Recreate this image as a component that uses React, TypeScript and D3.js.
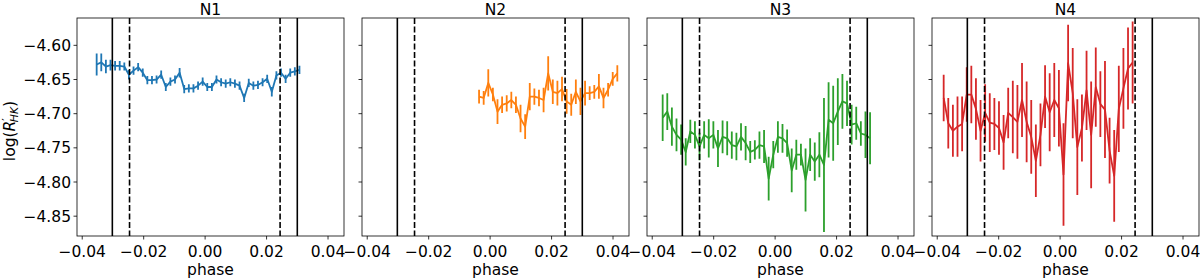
import * as d3 from "d3";

// panel titles and line colours (matplotlib tab10)
const panelNames = ["N1", "N2", "N3", "N4"];
const colors = ["#1f77b4", "#ff7f0e", "#2ca02c", "#d62728"];

// tick values
const xTicks = [-0.04, -0.02, 0.0, 0.02, 0.04];
const yTicks = [-4.6, -4.65, -4.7, -4.75, -4.8, -4.85];

// vertical reference lines (phase)
const solidLines = [-0.0302, 0.03];
const dashedLines = [-0.0246, 0.0244];

// N1
const n1Phase = [
  -0.0353, -0.0338, -0.0323, -0.0308, -0.0293, -0.0278, -0.0263, -0.0248, -0.0233, -0.0218,
  -0.0203, -0.0188, -0.0173, -0.0158, -0.0143, -0.0128, -0.0113, -0.0098, -0.0083, -0.0068,
  -0.0053, -0.0038, -0.0023, -0.0008, 0.0007, 0.0022, 0.0037, 0.0052, 0.0067, 0.0082,
  0.0097, 0.0112, 0.0127, 0.0142, 0.0157, 0.0172, 0.0187, 0.0202, 0.0217, 0.0232,
  0.0247, 0.0262, 0.0277, 0.0292, 0.0307,
];
const n1Value = [
  -4.628, -4.625, -4.631, -4.629, -4.63, -4.63, -4.631, -4.643, -4.637, -4.632,
  -4.64, -4.651, -4.651, -4.65, -4.643, -4.661, -4.653, -4.65, -4.64, -4.664,
  -4.663, -4.663, -4.659, -4.653, -4.661, -4.661, -4.65, -4.654, -4.656, -4.654,
  -4.656, -4.659, -4.677, -4.655, -4.659, -4.658, -4.654, -4.649, -4.668, -4.644,
  -4.64, -4.649, -4.64, -4.638, -4.636,
];
const n1Err = [
  0.016, 0.013, 0.01, 0.008, 0.007, 0.007, 0.006, 0.007, 0.006, 0.006,
  0.006, 0.006, 0.006, 0.006, 0.006, 0.006, 0.006, 0.006, 0.007, 0.006,
  0.006, 0.006, 0.006, 0.006, 0.006, 0.006, 0.006, 0.006, 0.006, 0.006,
  0.006, 0.006, 0.006, 0.006, 0.006, 0.006, 0.006, 0.006, 0.007, 0.006,
  0.006, 0.006, 0.006, 0.006, 0.006,
];

// N2
const n2Phase = [
  -0.0036, -0.0021, -0.0006, 0.0009, 0.0024, 0.0039, 0.0054, 0.0069, 0.0084, 0.0099,
  0.0114, 0.0129, 0.0144, 0.0159, 0.0174, 0.0189, 0.0204, 0.0219, 0.0234, 0.0249,
  0.0264, 0.0279, 0.0294, 0.0309, 0.0324, 0.0339, 0.0354, 0.0369, 0.0384, 0.0399,
  0.0414,
];
const n2Value = [
  -4.675, -4.677, -4.655, -4.672, -4.697, -4.687, -4.685, -4.68, -4.687, -4.707,
  -4.719, -4.675, -4.675, -4.677, -4.68, -4.641, -4.668, -4.67, -4.664, -4.682,
  -4.687, -4.668, -4.682, -4.67, -4.67, -4.668, -4.66, -4.677, -4.665, -4.649,
  -4.641,
];
const n2Err = [
  0.01, 0.01, 0.02, 0.01, 0.018, 0.012, 0.012, 0.012, 0.012, 0.02,
  0.018, 0.02, 0.012, 0.012, 0.018, 0.025, 0.018, 0.018, 0.018, 0.018,
  0.016, 0.018, 0.02, 0.018, 0.01, 0.01, 0.018, 0.015, 0.01, 0.01,
  0.012,
];

// N3
const n3Phase = [
  -0.0366, -0.0351, -0.0336, -0.0321, -0.0306, -0.0291, -0.0276, -0.0261, -0.0246, -0.0231,
  -0.0216, -0.0201, -0.0186, -0.0171, -0.0156, -0.0141, -0.0126, -0.0111, -0.0096, -0.0081,
  -0.0066, -0.0051, -0.0036, -0.0021, -0.0006, 0.0009, 0.0024, 0.0039, 0.0054, 0.0069,
  0.0084, 0.0099, 0.0114, 0.0129, 0.0144, 0.0159, 0.0174, 0.0189, 0.0204, 0.0219,
  0.0234, 0.0249, 0.0264, 0.0279, 0.0294, 0.0309,
];
const n3Value = [
  -4.706, -4.697, -4.719, -4.731, -4.738, -4.756, -4.726, -4.731, -4.748, -4.731,
  -4.736, -4.731, -4.751, -4.734, -4.736, -4.746, -4.748, -4.734, -4.743, -4.756,
  -4.753, -4.746, -4.748, -4.795, -4.76, -4.734, -4.736, -4.743, -4.783, -4.76,
  -4.76, -4.797, -4.76, -4.77, -4.76, -4.775, -4.709, -4.714, -4.697, -4.682,
  -4.685, -4.716, -4.714, -4.729, -4.731, -4.736,
];
const n3Err = [
  0.034, 0.027, 0.028, 0.024, 0.022, 0.02, 0.017, 0.02, 0.02, 0.02,
  0.028, 0.02, 0.027, 0.024, 0.025, 0.02, 0.02, 0.02, 0.025, 0.016,
  0.014, 0.02, 0.024, 0.032, 0.02, 0.023, 0.021, 0.02, 0.032, 0.022,
  0.016, 0.046, 0.024, 0.028, 0.033, 0.098, 0.055, 0.055, 0.049, 0.04,
  0.033, 0.029, 0.024, 0.018, 0.034, 0.038,
];

// N4
const n4Phase = [
  -0.0379, -0.0364, -0.0349, -0.0334, -0.0319, -0.0304, -0.0289, -0.0274, -0.0259, -0.0244,
  -0.0229, -0.0214, -0.0199, -0.0184, -0.0169, -0.0154, -0.0139, -0.0124, -0.0109, -0.0094,
  -0.0079, -0.0064, -0.0049, -0.0034, -0.0019, -0.0004, 0.0011, 0.0026, 0.0041, 0.0056,
  0.0071, 0.0086, 0.0101, 0.0116, 0.0131, 0.0146, 0.0161, 0.0176, 0.0191, 0.0206,
  0.0221, 0.0236,
];
const n4Value = [
  -4.677, -4.714, -4.725, -4.719, -4.715, -4.672, -4.672, -4.693, -4.725, -4.699,
  -4.713, -4.715, -4.721, -4.742, -4.699, -4.705, -4.712, -4.68, -4.712, -4.734,
  -4.769, -4.731, -4.675, -4.698, -4.68, -4.692, -4.789, -4.626, -4.67, -4.749,
  -4.721, -4.666, -4.731, -4.661, -4.686, -4.694, -4.754, -4.791, -4.693, -4.663,
  -4.634, -4.625,
];
const n4Err = [
  0.034, 0.037, 0.038, 0.044, 0.04, 0.04, 0.042, 0.045, 0.045, 0.042,
  0.043, 0.038, 0.039, 0.04, 0.037, 0.053, 0.054, 0.054, 0.059, 0.054,
  0.053, 0.046, 0.046, 0.057, 0.054, 0.056, 0.075, 0.056, 0.066, 0.07,
  0.049, 0.058, 0.078, 0.058, 0.048, 0.071, 0.048, 0.067, 0.063, 0.059,
  0.06, 0.06,
];

const phases = [n1Phase, n2Phase, n3Phase, n4Phase];
const values = [n1Value, n2Value, n3Value, n4Value];
const errors = [n1Err, n2Err, n3Err, n4Err];

const width = 1200;
const height = 280;
const top = 18;
const bottom = 236;
const firstLeft = 77;
const panelWidth = 267;
const panelStep = 285;
const fontSize = 15.5;
const font = "DejaVu Sans";
const dataWidth = 1.8;

const yScale = d3.scaleLinear([-4.879, -4.56], [bottom, top]);
const fmt = d3.format(".2f");

function Panel({ index }: { index: number }) {
  const left = firstLeft + index * panelStep;
  const x = d3.scaleLinear([-0.0417, 0.0452], [left, left + panelWidth]);
  const ph = phases[index];
  const val = values[index];
  const err = errors[index];
  const color = colors[index];
  const pts: [number, number][] = ph.map((p, i) => [x(p), yScale(val[i])]);
  const line = d3.line()(pts) ?? "";
  const bars = ph
    .map((p, i) => `M${x(p)},${yScale(val[i] - err[i])}V${yScale(val[i] + err[i])}`)
    .join("");
  const clipId = `clip${index}`;

  return (
    <g>
      <clipPath id={clipId}>
        <rect x={left} y={top} width={panelWidth} height={bottom - top} />
      </clipPath>
      <g clipPath={`url(#${clipId})`}>
        <path d={bars} stroke={color} strokeWidth={dataWidth} fill="none" />
        <path d={line} stroke={color} strokeWidth={dataWidth} fill="none" strokeLinejoin="round" />
        {solidLines.map((p, i) => (
          <line key={"s" + i} x1={x(p)} x2={x(p)} y1={top} y2={bottom} stroke="#000" strokeWidth={1.6} />
        ))}
        {dashedLines.map((p, i) => (
          <line
            key={"d" + i}
            x1={x(p)}
            x2={x(p)}
            y1={top}
            y2={bottom}
            stroke="#000"
            strokeWidth={1.6}
            strokeDasharray="5.9,2.6"
          />
        ))}
      </g>
      <rect x={left} y={top} width={panelWidth} height={bottom - top} fill="none" stroke="#000" strokeWidth={0.8} />
      {/* x axis */}
      {xTicks.map((t) => (
        <g key={t}>
          <line x1={x(t)} x2={x(t)} y1={bottom} y2={bottom + 3.5} stroke="#000" strokeWidth={0.8} />
          <text x={x(t)} y={256.5} textAnchor="middle" fontSize={fontSize} fontFamily={font}>
            {fmt(t)}
          </text>
        </g>
      ))}
      <text x={left + panelWidth / 2} y={275} textAnchor="middle" fontSize={fontSize} fontFamily={font}>
        phase
      </text>
      {/* y axis, labels only on the first panel */}
      {yTicks.map((t) => (
        <g key={t}>
          <line x1={left - 3.5} x2={left} y1={yScale(t)} y2={yScale(t)} stroke="#000" strokeWidth={0.8} />
          {index === 0 && (
            <text
              x={left - 6}
              y={yScale(t)}
              dy="0.36em"
              textAnchor="end"
              fontSize={fontSize}
              fontFamily={font}
            >
              {fmt(t)}
            </text>
          )}
        </g>
      ))}
      <text x={left + panelWidth / 2} y={14.5} textAnchor="middle" fontSize={fontSize} fontFamily={font}>
        {panelNames[index]}
      </text>
    </g>
  );
}

export default function App() {
  return (
    <svg
      width={width}
      height={height}
      style={{ position: "absolute", left: 0, top: 0, background: "#fff" }}
    >
      <rect width={width} height={height} fill="#fff" />
      {panelNames.map((_, i) => (
        <Panel key={i} index={i} />
      ))}
      <text
        transform={`translate(15, 131) rotate(-90)`}
        textAnchor="middle"
        fontSize={fontSize}
        fontFamily={font}
      >
        log(
        <tspan fontStyle="italic">R</tspan>
        <tspan fontSize={fontSize * 0.7} dy={-5}>′</tspan>
        <tspan fontStyle="italic" fontSize={fontSize * 0.7} dy={8} dx={-4}>HK</tspan>
        <tspan dy={-3}>)</tspan>
      </text>
    </svg>
  );
}
